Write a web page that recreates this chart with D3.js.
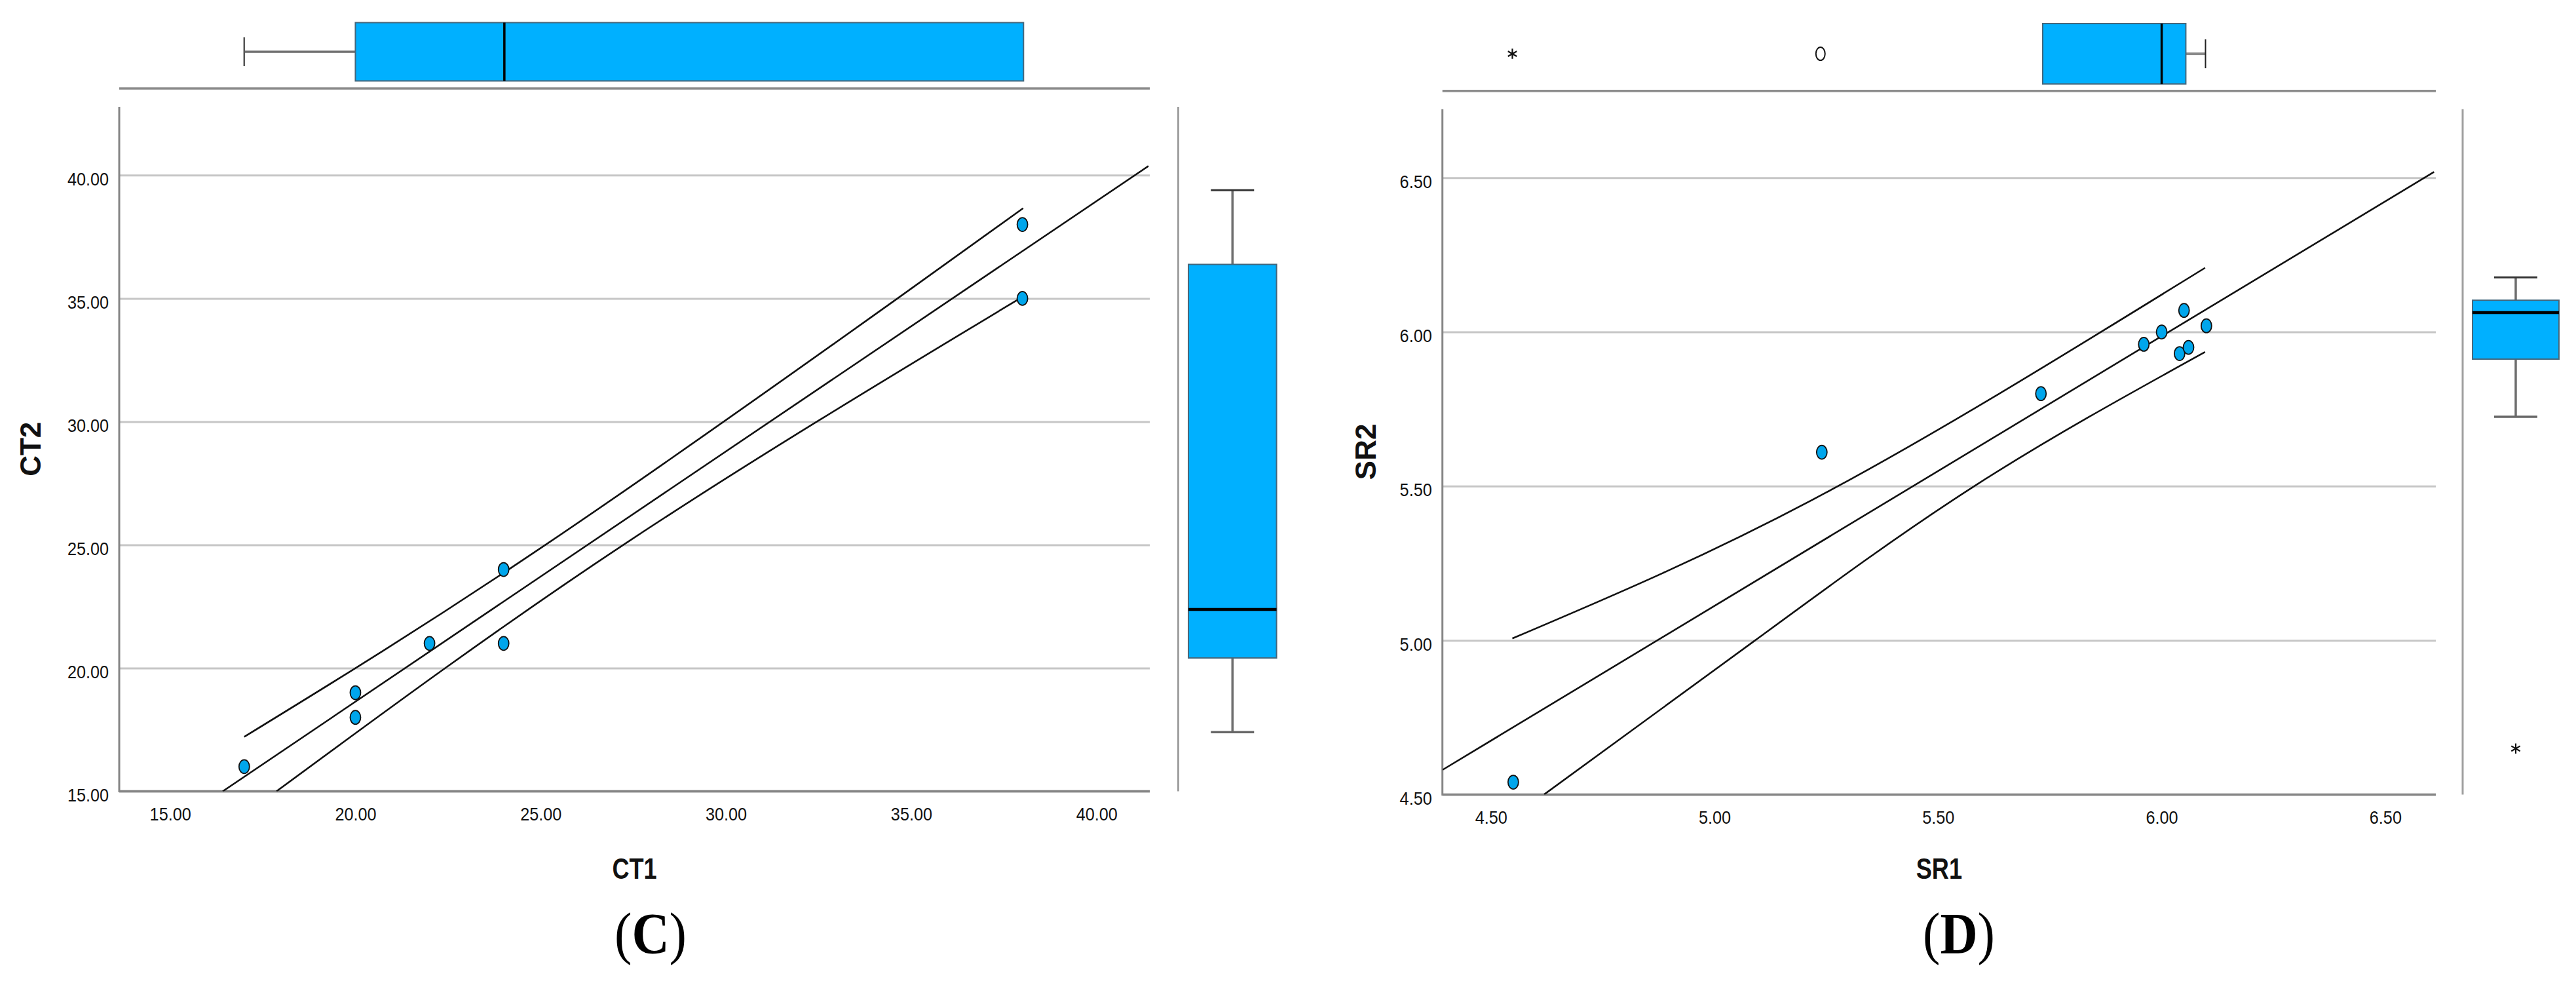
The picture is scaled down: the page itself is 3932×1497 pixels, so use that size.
<!DOCTYPE html>
<html><head><meta charset="utf-8">
<script src="https://cdn.jsdelivr.net/npm/d3@7"></script>
<style>body{margin:0;background:#fff}</style>
</head><body>
<svg id="chart" width="3932" height="1497" xmlns="http://www.w3.org/2000/svg"></svg>
<script>
// ---------------- data ----------------
// Panel C
const ctX = [17, 20, 20, 22, 24, 24, 38, 38];
const ctY = [16, 19, 18, 21, 24, 21, 38, 35];
const ctXTicks = [15, 20, 25, 30, 35, 40];
const ctYTicks = [15, 20, 25, 30, 35, 40];
const ctFit   = [[16.42, 15.0], [41.40, 40.37]];
const ctUpper = [[17.0, 17.21], [25.13, 25.0], [34.63, 35.0], [38.02, 38.66]];
const ctLower = [[17.87, 15.0], [27.26, 25.03], [38.02, 35.08]];
// box plots: [whisker low, Q1, median, Q3, whisker high]
const ctXBox = [17, 20, 24.02, 38.03, 38.03];
const ctYBox = [17.40, 20.41, 22.38, 36.38, 39.39];
const ctXExtremes = [], ctXOutliers = [];
const ctYExtremes = [], ctYOutliers = [];

// Panel D
const srX = [4.55, 5.24, 5.73, 5.96, 6.00, 6.04, 6.05, 6.06, 6.10];
const srY = [4.54, 5.61, 5.80, 5.96, 6.00, 5.93, 6.07, 5.95, 6.02];
const srXTicks = [4.5, 5.0, 5.5, 6.0, 6.5];
const srYTicks = [4.5, 5.0, 5.5, 6.0, 6.5];
const srFit   = [[4.392, 4.58], [6.609, 6.519]];
const srUpper = [[4.548, 5.006], [5.248, 5.478], [6.097, 6.208]];
const srLower = [[4.619, 4.5], [5.091, 5.0], [5.581, 5.5], [6.097, 5.935]];
const srXBox = [5.734, 5.734, 6.0, 6.054, 6.098];
const srYBox = [5.725, 5.912, 6.063, 6.103, 6.177];
const srXExtremes = [4.548], srXOutliers = [5.237];
const srYExtremes = [4.649], srYOutliers = [];

// ---------------- layout ----------------
const panels = [
  { xDom: [13.627, 41.437], yDom: [15, 42.775], left: 182, right: 1755, top: 163, bottom: 1207.5,
    xs: ctX, ys: ctY, xTicks: ctXTicks, yTicks: ctYTicks, fit: ctFit, upper: ctUpper, lower: ctLower,
    xBox: ctXBox, yBox: ctYBox, xExt: ctXExtremes, xOut: ctXOutliers, yExt: ctYExtremes, yOut: ctYOutliers,
    tbTop: 34.5, tbBot: 123.5, tbBase: 135, sep: 1798.5, rbLeft: 1814, rbRight: 1948.5,
    xTitle: "CT1", yTitle: "CT2", yTitleX: 62, label: "C", labelX: 993 },
  { xDom: [4.3916, 6.613], yDom: [4.5, 6.723], left: 2201.7, right: 3718, top: 166.4, bottom: 1212.4,
    xs: srX, ys: srY, xTicks: srXTicks, yTicks: srYTicks, fit: srFit, upper: srUpper, lower: srLower,
    xBox: srXBox, yBox: srYBox, xExt: srXExtremes, xOut: srXOutliers, yExt: srYExtremes, yOut: srYOutliers,
    tbTop: 36, tbBot: 128.2, tbBase: 138.7, sep: 3759, rbLeft: 3774, rbRight: 3906,
    xTitle: "SR1", yTitle: "SR2", yTitleX: 2100, label: "D", labelX: 2990 }
];

const BOX_FILL = "#00b0ff", BOX_STROKE = "#44677c", POINT_FILL = "#00a6ec";
const GRID = "#c6c6c6", AXIS = "#858585";
const SANS = "'Liberation Sans', Arial, sans-serif";
const fmt = d3.format(".2f");
const svg = d3.select("#chart");
svg.append("rect").attr("width", 3932).attr("height", 1497).attr("fill", "#fff");

function squeeze(sel, f) {
  sel.each(function () {
    const L = this.getComputedTextLength();
    this.setAttribute("textLength", (L * f).toFixed(1));
    this.setAttribute("lengthAdjust", "spacingAndGlyphs");
  });
}

function drawPanel(p) {
  const x = d3.scaleLinear().domain(p.xDom).range([p.left, p.right]);
  const y = d3.scaleLinear().domain(p.yDom).range([p.bottom, p.top]);
  const g = svg.append("g");
  const W = p.right - p.left;

  // y axis with gridlines
  const ya = g.append("g").attr("transform", `translate(${p.left},0)`)
    .call(d3.axisLeft(y).tickValues(p.yTicks).tickFormat(fmt).tickSize(-W).tickPadding(16));
  ya.select(".domain").remove();
  ya.selectAll(".tick line").attr("stroke", GRID).attr("stroke-width", 3);
  ya.selectAll(".tick text").attr("font-family", SANS).attr("font-size", 28).attr("fill", "#111").attr("dy", "0.54em")
    .call(squeeze, 0.9);

  // x axis labels
  const xa = g.append("g").attr("transform", `translate(0,${p.bottom})`)
    .call(d3.axisBottom(x).tickValues(p.xTicks).tickFormat(fmt).tickSize(0).tickPadding(25));
  xa.select(".domain").remove();
  xa.selectAll(".tick text").attr("font-family", SANS).attr("font-size", 28).attr("fill", "#111")
    .call(squeeze, 0.9);

  // axis lines
  g.append("line").attr("x1", p.left).attr("x2", p.right).attr("y1", p.bottom).attr("y2", p.bottom)
    .attr("stroke", AXIS).attr("stroke-width", 3.5);
  g.append("line").attr("x1", p.left).attr("x2", p.left).attr("y1", p.top).attr("y2", p.bottom + 1.5)
    .attr("stroke", AXIS).attr("stroke-width", 3);
  // top boxplot baseline
  g.append("line").attr("x1", p.left).attr("x2", p.right).attr("y1", p.tbBase).attr("y2", p.tbBase)
    .attr("stroke", "#8c8c8c").attr("stroke-width", 3.5);
  // right boxplot separator
  g.append("line").attr("x1", p.sep).attr("x2", p.sep).attr("y1", p.top).attr("y2", p.bottom)
    .attr("stroke", "#a0a0a0").attr("stroke-width", 3);

  // fit line and confidence bands
  const clipId = "clip" + p.label;
  g.append("clipPath").attr("id", clipId).append("rect")
    .attr("x", p.left).attr("y", p.top).attr("width", W).attr("height", p.bottom - p.top);
  const straight = d3.line().x(d => x(d[0])).y(d => y(d[1]));
  const curved = d3.line().x(d => x(d[0])).y(d => y(d[1])).curve(d3.curveNatural);
  const lines = g.append("g").attr("clip-path", `url(#${clipId})`)
    .attr("fill", "none").attr("stroke", "#111").attr("stroke-width", 2.6);
  lines.append("path").attr("d", straight(p.fit));
  lines.append("path").attr("d", curved(p.upper));
  lines.append("path").attr("d", curved(p.lower));

  // points
  g.append("g").selectAll("ellipse").data(d3.zip(p.xs, p.ys)).join("ellipse")
    .attr("cx", d => x(d[0])).attr("cy", d => y(d[1])).attr("rx", 8).attr("ry", 10.5)
    .attr("fill", POINT_FILL).attr("stroke", "#111").attr("stroke-width", 1.8);

  // ---- top box plot (horizontal) ----
  const tb = g.append("g");
  const [lo, q1, md, q3, hi] = p.xBox;
  const tMid = (p.tbTop + p.tbBot) / 2, capH = 22;
  if (q1 > lo) {
    tb.append("line").attr("x1", x(lo)).attr("x2", x(q1)).attr("y1", tMid).attr("y2", tMid).attr("stroke", "#6e6e6e").attr("stroke-width", 3.5);
    tb.append("line").attr("x1", x(lo)).attr("x2", x(lo)).attr("y1", tMid - capH).attr("y2", tMid + capH).attr("stroke", "#555").attr("stroke-width", 2.5);
  }
  if (hi > q3) {
    tb.append("line").attr("x1", x(q3)).attr("x2", x(hi)).attr("y1", tMid).attr("y2", tMid).attr("stroke", "#8a8a8a").attr("stroke-width", 4);
    tb.append("line").attr("x1", x(hi)).attr("x2", x(hi)).attr("y1", tMid - capH).attr("y2", tMid + capH).attr("stroke", "#222").attr("stroke-width", 2);
  }
  tb.append("rect").attr("x", x(q1)).attr("y", p.tbTop).attr("width", x(q3) - x(q1)).attr("height", p.tbBot - p.tbTop)
    .attr("fill", BOX_FILL).attr("stroke", BOX_STROKE).attr("stroke-width", 2);
  tb.append("line").attr("x1", x(md)).attr("x2", x(md)).attr("y1", p.tbTop).attr("y2", p.tbBot).attr("stroke", "#000").attr("stroke-width", 3.5);
  const star = d3.symbol(d3.symbolAsterisk, 170);
  tb.selectAll("path.ext").data(p.xExt).join("path").attr("class", "ext")
    .attr("transform", d => `translate(${x(d)},${tMid})`).attr("d", star).attr("stroke", "#111").attr("stroke-width", 2.2).attr("fill", "none");
  tb.selectAll("ellipse.out").data(p.xOut).join("ellipse").attr("class", "out")
    .attr("cx", d => x(d)).attr("cy", tMid).attr("rx", 7).attr("ry", 10).attr("fill", "none").attr("stroke", "#111").attr("stroke-width", 2);

  // ---- right box plot (vertical) ----
  const rb = g.append("g");
  const [ylo, yq1, ymd, yq3, yhi] = p.yBox;
  const rMid = (p.rbLeft + p.rbRight) / 2, capW = 33;
  rb.append("line").attr("x1", rMid).attr("x2", rMid).attr("y1", y(yhi)).attr("y2", y(yq3)).attr("stroke", "#6e6e6e").attr("stroke-width", 3.5);
  rb.append("line").attr("x1", rMid).attr("x2", rMid).attr("y1", y(yq1)).attr("y2", y(ylo)).attr("stroke", "#6e6e6e").attr("stroke-width", 3.5);
  rb.append("line").attr("x1", rMid - capW).attr("x2", rMid + capW).attr("y1", y(yhi)).attr("y2", y(yhi)).attr("stroke", "#333").attr("stroke-width", 3);
  rb.append("line").attr("x1", rMid - capW).attr("x2", rMid + capW).attr("y1", y(ylo)).attr("y2", y(ylo)).attr("stroke", "#666").attr("stroke-width", 3.5);
  rb.append("rect").attr("x", p.rbLeft).attr("y", y(yq3)).attr("width", p.rbRight - p.rbLeft).attr("height", y(yq1) - y(yq3))
    .attr("fill", BOX_FILL).attr("stroke", BOX_STROKE).attr("stroke-width", 2);
  rb.append("line").attr("x1", p.rbLeft).attr("x2", p.rbRight).attr("y1", y(ymd)).attr("y2", y(ymd)).attr("stroke", "#000").attr("stroke-width", 4.5);
  rb.selectAll("path.ext").data(p.yExt).join("path").attr("class", "ext")
    .attr("transform", d => `translate(${rMid},${y(d)})`).attr("d", star).attr("stroke", "#111").attr("stroke-width", 2.2).attr("fill", "none");
  rb.selectAll("ellipse.out").data(p.yOut).join("ellipse").attr("class", "out")
    .attr("cx", rMid).attr("cy", d => y(d)).attr("rx", 7).attr("ry", 10).attr("fill", "none").attr("stroke", "#111").attr("stroke-width", 2);

  // ---- titles ----
  g.append("text").attr("x", (p.left + p.right) / 2).attr("y", 1341).attr("text-anchor", "middle")
    .attr("font-family", SANS).attr("font-weight", "bold").attr("font-size", 44).attr("fill", "#111")
    .text(p.xTitle).call(squeeze, 0.82);
  g.append("text").attr("transform", `translate(${p.yTitleX},${(p.top + p.bottom) / 2}) rotate(-90)`)
    .attr("text-anchor", "middle").attr("font-family", SANS).attr("font-weight", "bold").attr("font-size", 44).attr("fill", "#111")
    .text(p.yTitle);
  const lab = g.append("text").attr("x", p.labelX).attr("y", 1454).attr("text-anchor", "middle")
    .attr("font-family", "'Liberation Serif', 'Times New Roman', serif").attr("font-size", 88).attr("fill", "#000");
  lab.append("tspan").text("(");
  lab.append("tspan").attr("font-weight", "bold").text(p.label);
  lab.append("tspan").text(")");
  lab.call(squeeze, 0.9);
}

panels.forEach(drawPanel);
</script>
</body></html>
